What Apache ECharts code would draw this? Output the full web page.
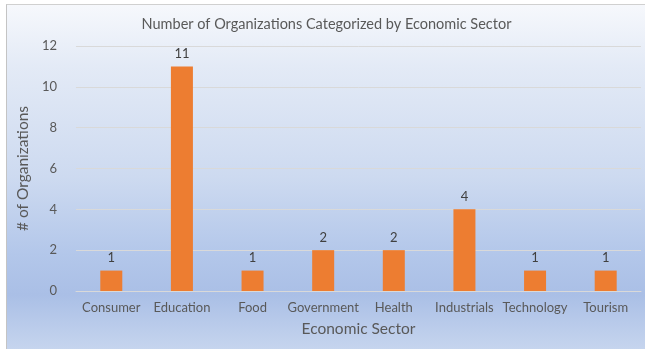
<!DOCTYPE html>
<html>
<head>
<meta charset="utf-8">
<script src="https://cdn.jsdelivr.net/npm/echarts@6/dist/echarts.min.js"></script>
<style>
  html, body { margin: 0; padding: 0; background: #ffffff; }
  #frame {
    position: absolute; left: 6px; top: 4px; width: 639px; height: 345px;
    border-left: 1px solid #c4c4c4; border-top: 1px solid #d0d0d0;
    background: linear-gradient(to bottom, #f6f8fc 0%, #e3eaf6 18%, #cddaf0 50%, #b3c7ea 72%, #aabfe6 84%, #c6d5ee 100%);
  }
  #chart { width: 639px; height: 345px; }
</style>
</head>
<body>
<div id="frame"><div id="chart"></div></div>
<script>
const sectors = ['Consumer', 'Education', 'Food', 'Government', 'Health', 'Industrials', 'Technology', 'Tourism'];
const orgCounts = [1, 11, 1, 2, 2, 4, 1, 1];
const yTicks = [0, 2, 4, 6, 8, 10, 12];

const font = 'Lato, "Open Sans", sans-serif';
const chart = echarts.init(document.getElementById('chart'), null, { renderer: 'canvas' });
chart.setOption({
  backgroundColor: 'transparent',
  animation: false,
  title: {
    text: 'Number of Organizations Categorized by Economic Sector',
    left: 'center', top: 7,
    textStyle: { fontFamily: font, fontSize: 14.5, fontWeight: 'normal', color: '#595959' }
  },
  grid: { left: 65, right: 5, top: 41, bottom: 59 },
  xAxis: {
    type: 'category',
    data: sectors,
    name: 'Economic Sector',
    nameLocation: 'middle',
    nameGap: 30,
    nameTextStyle: { fontFamily: font, fontSize: 15.5, color: '#595959' },
    axisLine: { lineStyle: { color: '#d9d9d9', width: 1 } },
    axisTick: { show: false },
    axisLabel: { fontFamily: font, fontSize: 13, color: '#595959', margin: 10, interval: 0 }
  },
  yAxis: {
    type: 'value',
    min: yTicks[0], max: yTicks[yTicks.length - 1], interval: 2,
    name: '# of Organizations',
    nameLocation: 'middle',
    nameGap: 37,
    nameTextStyle: { fontFamily: font, fontSize: 15.5, color: '#595959' },
    axisLine: { show: false },
    axisTick: { show: false },
    axisLabel: { fontFamily: font, fontSize: 13, color: '#595959', margin: 19 },
    splitLine: { lineStyle: { color: '#d9d9d9', width: 1 } }
  },
  series: [{
    type: 'bar',
    data: orgCounts,
    barWidth: 22,
    itemStyle: { color: '#ed7d31' },
    label: {
      show: true, position: 'top', distance: 6,
      fontFamily: font, fontSize: 13, color: '#404040'
    }
  }]
});
</script>
</body>
</html>
